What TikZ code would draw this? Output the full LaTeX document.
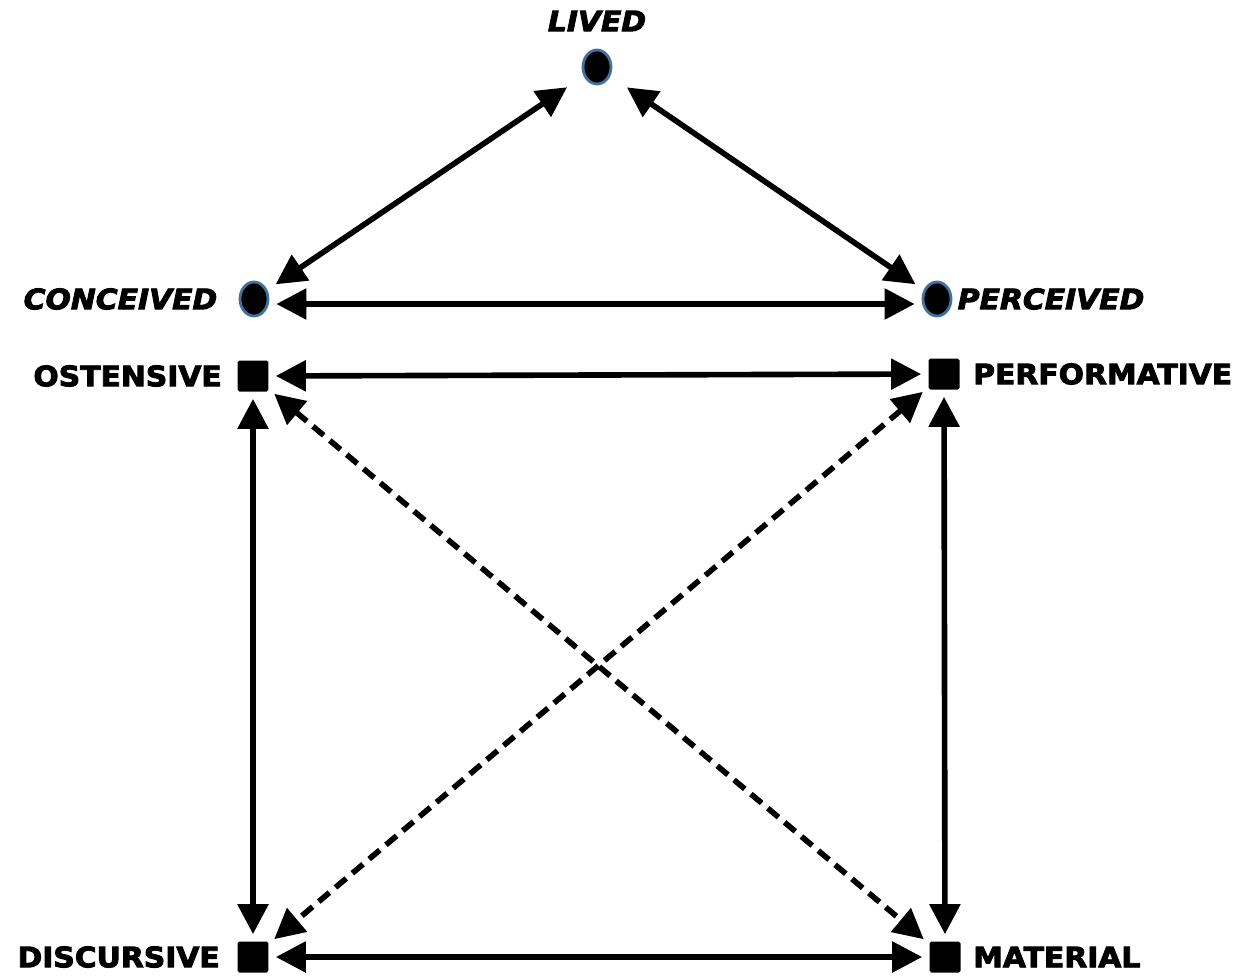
\documentclass[tikz,border=0pt]{standalone}
\usepackage{fontspec}
\newfontfamily\heavyfont[FakeStretch=1.06, FakeBold=3.2]{DejaVu Sans}
\usetikzlibrary{shapes.geometric, arrows.meta, positioning}
\definecolor{dotrim}{HTML}{41719C}
\tikzset{
  dot/.style={ellipse, fill=black, draw=dotrim, line width=1.6pt,
              minimum width=0.56cm, minimum height=0.68cm, inner sep=0pt},
  sqbox/.style={rectangle, fill=black, minimum size=0.62cm,
                inner sep=0pt, rounded corners=1pt},
  role/.style={font=\heavyfont\bfseries\fontsize{16}{18}\selectfont, inner sep=0pt},
  space/.style={role, font=\heavyfont\bfseries\itshape\fontsize{16}{18}\selectfont},
  link/.style={{Triangle[length=0.6cm,width=0.6cm]}-{Triangle[length=0.6cm,width=0.6cm]},
               line width=3.2pt, shorten <=0.14cm, shorten >=0.14cm},
  dlink/.style={link, dash pattern=on 0.28cm off 0.16cm},
}
\begin{document}
\begin{tikzpicture}[x=0.02cm, y=-0.02cm]
  \useasboundingbox (0,0) rectangle (1258,977);

  % triad of spaces
  \node[dot] (lv) at (597,67) {};
  \node[dot] (cv) at (254,299) {};
  \node[dot] (pc) at (937,299) {};
  \node[space, above=0.34cm of lv] (lvtext) {LIVED};
  \node[space, left=0.42cm of cv] (cvtext) {CONCEIVED};
  \node[space, right=0.1cm of pc] (pctext) {PERCEIVED};

  % square of modes
  \node[sqbox] (os) at (253,376) {};
  \node[sqbox] (pf) at (944,374) {};
  \node[sqbox] (ds) at (253,957) {};
  \node[sqbox] (mt) at (945,957) {};
  \node[role, left=0.3cm of os] (ostext) {OSTENSIVE};
  \node[role, right=0.26cm of pf] (pftext) {PERFORMATIVE};
  \node[role, left=0.34cm of ds] (dstext) {DISCURSIVE};
  \node[role, right=0.24cm of mt] (mttext) {MATERIAL};

  \draw[link, shorten <=0.4cm, shorten >=0.2cm] (lv) -- (cv);
  \draw[link, shorten <=0.4cm, shorten >=0.2cm] (lv) -- (pc);
  \draw[link] ([yshift=-0.1cm]cv.east) -- ([yshift=-0.1cm]pc.west);

  \draw[link] (os) -- (pf);
  \draw[link] (os) -- (ds);
  \draw[link] (pf) -- (mt);
  \draw[link] (ds) -- (mt);
  \draw[dlink] (os) -- (mt);
  \draw[dlink] (pf) -- (ds);
\end{tikzpicture}
\end{document}
